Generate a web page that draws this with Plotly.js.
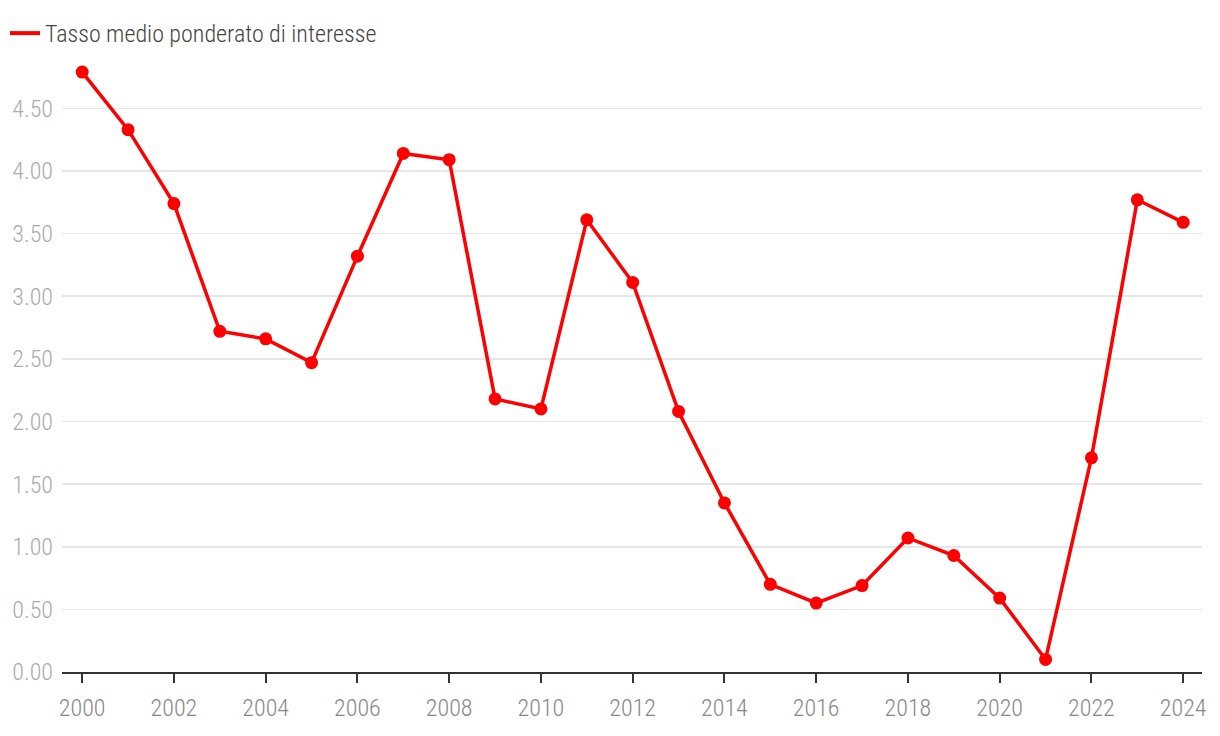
<!DOCTYPE html>
<html>
<head>
<meta charset="utf-8">
<script src="https://cdn.plot.ly/plotly-3.0.1.min.js"></script>
<style>
  html, body { margin: 0; padding: 0; background: #fff; }
  #chart { width: 1220px; height: 736px; }
</style>
</head>
<body>
<div id="chart"></div>
<script>
// Tasso medio ponderato di interesse, 2000-2024
const years = [2000, 2001, 2002, 2003, 2004, 2005, 2006, 2007, 2008, 2009, 2010, 2011, 2012,
               2013, 2014, 2015, 2016, 2017, 2018, 2019, 2020, 2021, 2022, 2023, 2024];
const rates = [4.79, 4.33, 3.74, 2.72, 2.66, 2.47, 3.32, 4.14, 4.09, 2.18, 2.10, 3.61, 3.11,
               2.08, 1.35, 0.70, 0.55, 0.69, 1.07, 0.93, 0.59, 0.10, 1.71, 3.77, 3.59];
const seriesName = 'Tasso medio ponderato di interesse';
const yTicks = [0, 0.5, 1, 1.5, 2, 2.5, 3, 3.5, 4, 4.5];
const xTicks = [2000, 2002, 2004, 2006, 2008, 2010, 2012, 2014, 2016, 2018, 2020, 2022, 2024];

const FONT = '"Roboto Condensed", "Liberation Sans Narrow", "DejaVu Sans Condensed", "Roboto", sans-serif';
const RED = '#ff0000';

const trace = {
    x: years,
    y: rates,
    type: 'scatter',
    mode: 'lines+markers',
    name: seriesName,
    line: { color: RED, width: 3.5 },
    marker: { color: RED, size: 13 },
    cliponaxis: false,
    showlegend: false,
    hoverinfo: 'x+y'
};

// legend shows only the line, so a line-only twin carries the legend entry
const legendTrace = {
    x: [null],
    y: [null],
    type: 'scatter',
    mode: 'lines',
    name: seriesName,
    line: { color: RED, width: 4 },
    showlegend: true
};

const layout = {
    width: 1220,
    height: 736,
    margin: { l: 62, r: 18, t: 52, b: 64, autoexpand: false },
    paper_bgcolor: '#fff',
    plot_bgcolor: '#fff',
    font: { family: FONT, size: 24, color: '#444', weight: 300 },
    showlegend: true,
    legend: {
        orientation: 'h',
        x: 5 / 1220, xref: 'container',
        y: 1 - 11 / 736, yref: 'container',
        xanchor: 'left', yanchor: 'top',
        font: { family: FONT, size: 24, color: '#444', weight: 300 }
    },
    xaxis: {
        range: [1999.56, 2024.41],
        tickvals: xTicks,
        ticktext: xTicks.map(String),
        ticks: 'outside',
        ticklen: 9,
        tickwidth: 2,
        tickcolor: '#333',
        showline: true,
        linecolor: '#333',
        linewidth: 2,
        showgrid: false,
        zeroline: false,
        ticklabelstandoff: 4,
        tickfont: { family: FONT, size: 24, color: '#888', weight: 300 }
    },
    yaxis: {
        range: [0, 4.95],
        tickvals: yTicks,
        ticktext: yTicks.map(v => v.toFixed(2)),
        showgrid: true,
        gridcolor: '#e6e6e6',
        gridwidth: 1.5,
        zeroline: false,
        showline: false,
        ticks: '',
        ticklabelstandoff: 8,
        tickfont: { family: FONT, size: 24, color: '#aaa', weight: 300 }
    }
};

Plotly.newPlot('chart', [trace, legendTrace], layout, { staticPlot: true, displayModeBar: false });
</script>
</body>
</html>
